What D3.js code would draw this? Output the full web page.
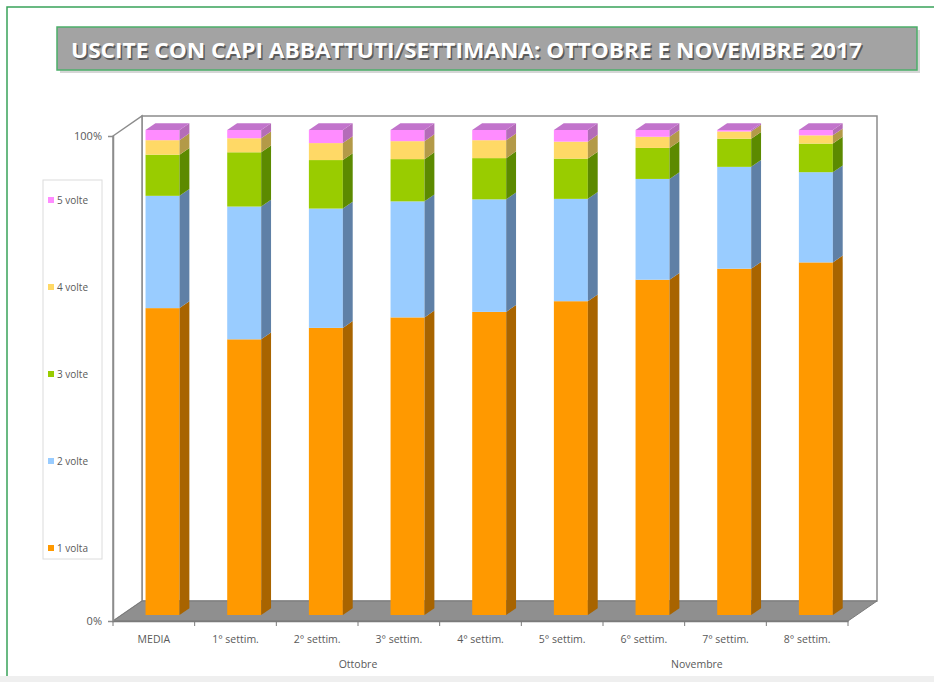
<!DOCTYPE html>
<html>
<head>
<meta charset="utf-8">
<script src="https://cdn.jsdelivr.net/npm/d3@7"></script>
<style>
  body { margin: 0; background: #fff; }
  svg { display: block; }
  text { font-family: "Open Sans", "Liberation Sans", sans-serif; }
</style>
</head>
<body>
<div id="chart"></div>
<script>
// data (% of outings per week)
const categories = ['MEDIA', '1° settim.', '2° settim.', '3° settim.', '4° settim.',
                    '5° settim.', '6° settim.', '7° settim.', '8° settim.'];
const seriesNames = ['1 volta', '2 volte', '3 volte', '4 volte', '5 volte'];
const volta1 = [63.4, 56.9, 59.2, 61.3, 62.5, 64.7, 69.2, 71.4, 72.7];
const volte2 = [23.2, 27.4, 24.6, 23.9, 23.2, 21.1, 20.8, 21.0, 18.6];
const volte3 = [8.5, 11.2, 10.0, 8.7, 8.5, 8.3, 6.4, 5.8, 5.9];
const volte4 = [3.0, 2.9, 3.5, 3.7, 3.7, 3.5, 2.3, 1.5, 1.7];
const volte5 = [2.1, 1.7, 2.7, 2.3, 2.1, 2.4, 1.4, 0.3, 1.1];
const yTicks = [0, 1];
const title = 'USCITE CON CAPI ABBATTUTI/SETTIMANA: OTTOBRE E NOVEMBRE 2017';

const rows = categories.map((c, i) => ({
    cat: c,
    '1 volta': volta1[i],
    '2 volte': volte2[i],
    '3 volte': volte3[i],
    '4 volte': volte4[i],
    '5 volte': volte5[i]
}));

// face colours: front / side / top
const colors = {
    '1 volta': ['#ff9900', '#a86400', '#d98200'],
    '2 volte': ['#99ccff', '#5f80a6', '#7fa9d6'],
    '3 volte': ['#99cc00', '#5c8a00', '#7fab00'],
    '4 volte': ['#ffd966', '#b39a48', '#e0bd55'],
    '5 volte': ['#ff8cff', '#b46cb8', '#c274cc']
};

const svgWidth = 934;
const svgHeight = 682;

// front plane of the 3d box and its depth offset
const front = { left: 113, right: 848, bottom: 621, top: 136 };
const depth = { dx: 29, dy: -20 };
const barFront = 0.3, barBack = 0.64;

const svg = d3.select('#chart')
.append('svg')
.attr('width', svgWidth)
.attr('height', svgHeight);

// page frame
svg.append('rect')
.attr('x', 0).attr('y', 676).attr('width', svgWidth).attr('height', 6)
.attr('fill', '#efefef');
svg.append('path')
.attr('d', `M7,676 L7,7 L${svgWidth},7`)
.attr('fill', 'none')
.attr('stroke', '#39a35a')
.attr('stroke-width', 1.5);

// title box
svg.append('rect')
.attr('x', 60).attr('y', 30).attr('width', 860).attr('height', 43)
.attr('fill', '#d6d6d6');
svg.append('rect')
.attr('x', 57).attr('y', 27).attr('width', 860).attr('height', 43)
.attr('fill', '#a3a3a3')
.attr('stroke', '#4caf6a')
.attr('stroke-width', 1.5);

function titleText(fill, shift) {
    svg.append('text')
    .attr('x', 71).attr('y', 58)
    .attr('fill', fill)
    .attr('font-size', 22)
    .attr('font-weight', 'bold')
    .attr('font-family', '"Liberation Sans Narrow", "Open Sans", sans-serif')
    .attr('textLength', 791)
    .attr('lengthAdjust', 'spacingAndGlyphs')
    .attr('transform', `translate(${shift},${shift})`)
    .text(title);
}
titleText('#5a5a5a', 1.5);
titleText('#fff', 0);

// scales
const xScale = d3.scaleBand()
.domain(categories)
.range([front.left, front.right]);

const yScale = d3.scaleLinear()
.domain([0, 1])
.range([front.bottom, front.top]);

const barWidth = xScale.bandwidth() * 0.416;

// walls and floor
const L = front.left, R = front.right, B = front.bottom, T = front.top;
const dx = depth.dx, dy = depth.dy;

svg.append('path')
.attr('d', `M${L + dx},${T + dy} L${R + dx},${T + dy} L${R + dx},${B + dy} L${L + dx},${B + dy} Z`)
.attr('fill', '#fff')
.attr('stroke', '#8c8c8c')
.attr('stroke-width', 1.5);

svg.append('path')
.attr('d', `M${L},${T} L${L + dx},${T + dy} L${L + dx},${B + dy} L${L},${B} Z`)
.attr('fill', '#fff')
.attr('stroke', '#8c8c8c')
.attr('stroke-width', 1.5);

svg.append('path')
.attr('d', `M${L},${B} L${L + dx},${B + dy} L${R + dx},${B + dy} L${R},${B} Z`)
.attr('fill', '#8f8f8f')
.attr('stroke', '#7a7a7a')
.attr('stroke-width', 1);

// stacked bars
const stack = d3.stack()
.keys(seriesNames)
.offset(d3.stackOffsetExpand);
const stacked = stack(rows);

const fx = barFront * dx, fy = barFront * dy;
const sx = (barBack - barFront) * dx, sy = (barBack - barFront) * dy;

const barsGroup = svg.append('g');

categories.forEach((c, i) => {
    const xl = xScale(c) + xScale.bandwidth() / 2 - barWidth / 2 + fx;
    const xr = xl + barWidth;
    const g = barsGroup.append('g');
    stacked.forEach((layer, k) => {
        const d = layer[i];
        const y0 = yScale(d[0]) + fy;
        const y1 = yScale(d[1]) + fy;
        const col = colors[layer.key];
        g.append('rect')
        .attr('x', xl).attr('y', y1)
        .attr('width', barWidth).attr('height', Math.max(0, y0 - y1))
        .attr('fill', col[0]);
        g.append('path')
        .attr('d', `M${xr},${y0} L${xr + sx},${y0 + sy} L${xr + sx},${y1 + sy} L${xr},${y1} Z`)
        .attr('fill', col[1]);
        if (k === stacked.length - 1) {
            g.append('path')
            .attr('d', `M${xl},${y1} L${xl + sx},${y1 + sy} L${xr + sx},${y1 + sy} L${xr},${y1} Z`)
            .attr('fill', col[2]);
        }
    });
});

// axes
const yAxis = d3.axisLeft(yScale)
.tickValues(yTicks)
.tickFormat(d3.format('.0%'))
.tickSize(5)
.tickPadding(6);

const yAxisG = svg.append('g')
.attr('transform', `translate(${L}, 0)`)
.call(yAxis);
yAxisG.select('.domain').attr('stroke', '#8c8c8c').attr('stroke-width', 1.5);
yAxisG.selectAll('.tick line').attr('stroke', '#8c8c8c');
yAxisG.selectAll('.tick text')
.attr('fill', '#595959')
.attr('font-size', 11)
.attr('font-family', '"Open Sans", sans-serif');

const xAxis = d3.axisBottom(xScale)
.tickSize(0)
.tickPadding(15);

const xAxisG = svg.append('g')
.attr('transform', `translate(0, ${B})`)
.call(xAxis);
xAxisG.select('.domain').attr('stroke', '#7a7a7a').attr('stroke-width', 1.5);
xAxisG.selectAll('.tick text')
.attr('fill', '#595959')
.attr('font-size', 10.5)
.attr('font-family', '"Open Sans", sans-serif');

// category boundary ticks
const bounds = categories.map(c => xScale(c)).concat([xScale.range()[1]]);
xAxisG.selectAll('.bound')
.data(bounds)
.enter()
.append('line')
.attr('x1', d => d).attr('x2', d => d)
.attr('y1', 0).attr('y2', 5)
.attr('stroke', '#7a7a7a');

// month labels (positioned along the category index)
const step = xScale.step();
const monthLabels = [
    { name: 'Ottobre', from: 0, to: 5 },
    { name: 'Novembre', from: 5.6, to: 7.7 }
];
svg.selectAll('.month')
.data(monthLabels)
.enter()
.append('text')
.attr('x', d => L + step * ((d.from + d.to) / 2 + 0.5))
.attr('y', 668)
.attr('text-anchor', 'middle')
.attr('fill', '#595959')
.attr('font-size', 10.5)
.text(d => d.name);

// legend
const legend = svg.append('g');
legend.append('rect')
.attr('x', 43).attr('y', 180).attr('width', 59).attr('height', 379)
.attr('fill', '#fff')
.attr('stroke', '#dcdcdc');

const legendScale = d3.scalePoint()
.domain(seriesNames.slice().reverse())
.range([200, 548]);

const legendItems = legend.selectAll('.item')
.data(seriesNames)
.enter()
.append('g')
.attr('transform', d => `translate(48, ${legendScale(d)})`);

legendItems.append('rect')
.attr('x', 0).attr('y', -3)
.attr('width', 6).attr('height', 6)
.attr('fill', d => colors[d][0]);

legendItems.append('text')
.attr('x', 9).attr('y', 3.5)
.attr('fill', '#595959')
.attr('font-size', 10)
.text(d => d);
</script>
</body>
</html>
